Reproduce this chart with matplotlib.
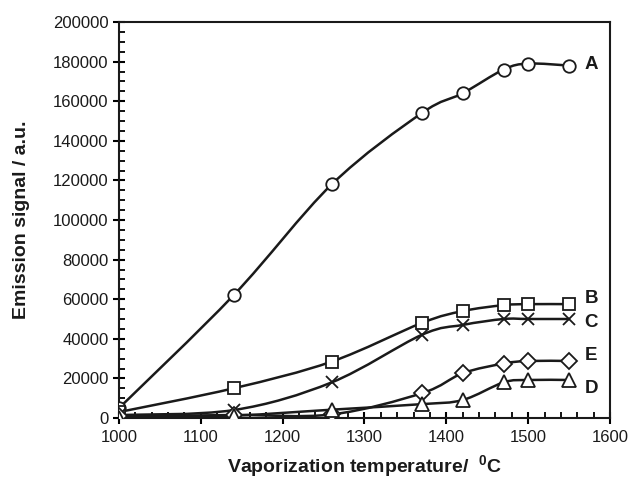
import numpy as np
import matplotlib
matplotlib.use("Agg")
import matplotlib.pyplot as plt
from matplotlib.path import Path
from matplotlib.patches import PathPatch
from matplotlib.ticker import MultipleLocator

plt.rcParams['font.family'] = ['Liberation Sans', 'DejaVu Sans']
plt.rcParams['mathtext.fontset'] = 'custom'
plt.rcParams['mathtext.rm'] = 'Liberation Sans'
plt.rcParams['mathtext.bf'] = 'Liberation Sans:bold'

temps = [1000, 1140, 1260, 1370, 1420, 1470, 1500, 1550]
series_A = [5000, 62000, 118000, 154000, 164000, 176000, 179000, 178000]
series_B = [3000, 15000, 28500, 48000, 54000, 57000, 57500, 57500]
series_C = [1500, 4000, 18000, 42000, 47000, 50000, 50000, 50000]
series_E = [800, 1500, 1800, 12500, 22600, 27500, 28800, 28800]
series_D = [0, 1200, 4200, 7000, 9100, 18000, 19200, 19200]
labels = ['A', 'B', 'C', 'E', 'D']
markers = ['o', 's', 'x', 'D', '^']
label_y = [178500, 60500, 48000, 31700, 15000]

fig = plt.figure(figsize=(6.3, 4.79), dpi=100)
ax = fig.add_axes([119/630, 61/479, 491/630, 396/479])


def smooth_path(x, y, t=0.5):
    x = np.asarray(x, float)
    y = np.asarray(y, float)
    n = len(x)
    verts = [(x[0], y[0])]
    codes = [Path.MOVETO]
    for i in range(n - 1):
        p0 = (x[i - 1], y[i - 1]) if i > 0 else (x[i], y[i])
        p1 = (x[i], y[i])
        p2 = (x[i + 1], y[i + 1])
        p3 = (x[i + 2], y[i + 2]) if i + 2 < n else (x[i + 1], y[i + 1])
        c1 = (p1[0] + (p2[0] - p0[0]) * t / 3, p1[1] + (p2[1] - p0[1]) * t / 3)
        c2 = (p2[0] - (p3[0] - p1[0]) * t / 3, p2[1] - (p3[1] - p1[1]) * t / 3)
        verts += [c1, c2, p2]
        codes += [Path.CURVE4] * 3
    return Path(verts, codes)


sizes = {'o': 9, 's': 9, 'x': 9, 'D': 8.5, '^': 9.5}
all_series = [series_A, series_B, series_C, series_E, series_D]
for ys, mk, lab, ly in zip(all_series, markers, labels, label_y):
    patch = PathPatch(smooth_path(temps, ys), facecolor='none', edgecolor='#1a1a1a',
                      lw=1.8, zorder=2)
    ax.add_patch(patch)
    ax.plot(temps, ys, linestyle='none', marker=mk, ms=sizes[mk], mfc='white',
            mec='#1a1a1a', mew=1.3, zorder=3)
    ax.text(1569, ly, lab, fontsize=13.5, fontweight='bold', va='center', ha='left',
            color='#1a1a1a')

ax.set_xlim(1000, 1600)
ax.set_ylim(0, 200000)
ax.xaxis.set_major_locator(MultipleLocator(100))
ax.xaxis.set_minor_locator(MultipleLocator(20))
ax.yaxis.set_major_locator(MultipleLocator(20000))
ax.yaxis.set_minor_locator(MultipleLocator(5000))
ax.tick_params(which='major', direction='inout', length=8, width=1.5, labelsize=12,
               top=False, right=False, labelcolor='#1a1a1a')
ax.tick_params(which='minor', direction='in', length=4, width=1.3, top=False, right=False)
ax.tick_params(axis='x', pad=5)
for s in ax.spines.values():
    s.set_linewidth(1.5)
    s.set_color('#1a1a1a')

ax.set_xlabel(r'Vaporization temperature/  $\mathbf{^{0}}$C', fontsize=14,
              fontweight='bold', va='center', color='#1a1a1a')
ax.xaxis.set_label_coords(0.5, -(466 - 418) / 396)
ax.set_ylabel('Emission signal / a.u.', fontsize=14, fontweight='bold', va='center',
              color='#1a1a1a')
ax.yaxis.set_label_coords(-(119 - 22) / 491, 0.5)

fig.savefig('out.png', dpi=100)
